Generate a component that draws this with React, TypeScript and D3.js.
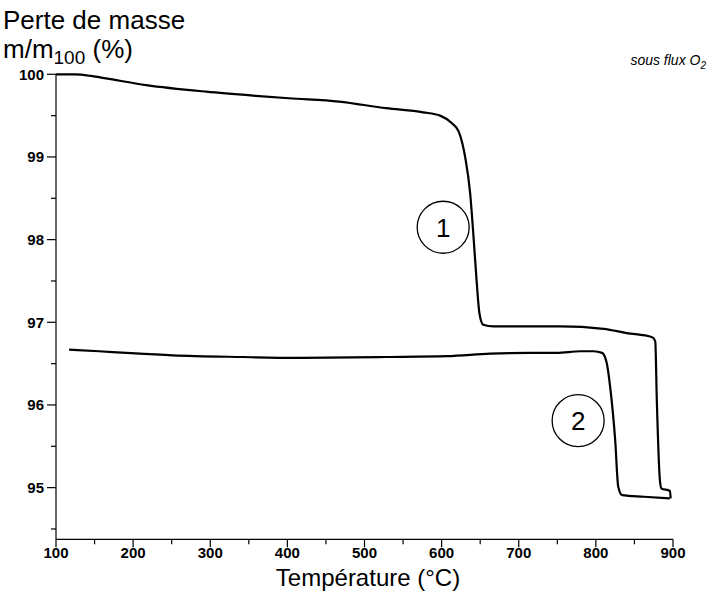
import React from "react";
import * as d3 from "d3";

const curve1T = [100, 125, 145, 165, 217, 295, 359, 402, 467, 528, 576, 598, 613, 622, 630.5, 637, 641, 645, 649, 654, 667, 702, 754, 810, 840, 873, 877, 879, 883, 885, 896, 897];
const curve1M = [100.0, 99.998, 99.98, 99.95, 99.87, 99.79, 99.74, 99.71, 99.67, 99.59, 99.54, 99.5, 99.41, 99.31, 99.0, 98.56, 98.08, 97.55, 97.11, 96.97, 96.95, 96.95, 96.95, 96.92, 96.87, 96.82, 96.77, 96.06, 95.09, 94.99, 94.96, 94.87];

const curve2T = [117, 156, 191, 251, 342, 411, 528, 607, 663, 715, 749, 780, 797, 808, 814, 818.5, 825, 829, 834, 862, 896];
const curve2M = [96.67, 96.65, 96.63, 96.6, 96.58, 96.57, 96.58, 96.59, 96.62, 96.63, 96.63, 96.65, 96.65, 96.63, 96.51, 96.22, 95.58, 95.01, 94.91, 94.89, 94.87];

const xMajorTicks = [100, 200, 300, 400, 500, 600, 700, 800, 900];
const xMinorTicks = [150, 250, 350, 450, 550, 650, 750, 850];
const yMajorTicks = [95, 96, 97, 98, 99, 100];
const yMinorTicks = [94.5, 95.5, 96.5, 97.5, 98.5, 99.5];

const labelNames = ["1", "2"];
const labelT = [602, 777];
const labelM = [98.15, 95.81];

const FONT = "'Liberation Sans', Arial, Helvetica, sans-serif";

export default function App() {
  const x = d3.scaleLinear().domain([100, 900]).range([56, 673]);
  const y = d3.scaleLinear().domain([94.375, 100]).range([539.3, 74.3]);

  const mk = d3
    .line<[number, number]>()
    .x((d) => x(d[0]))
    .y((d) => y(d[1]))
    .curve(d3.curveMonotoneX);
  const path1 = mk(curve1T.map((t, i) => [t, curve1M[i]] as [number, number]));
  const path2 = mk(curve2T.map((t, i) => [t, curve2M[i]] as [number, number]));

  const [y0, y1] = y.range();
  const [x0, x1] = x.range();

  return (
    <div style={{ position: "fixed", left: 0, top: 0 }}>
      <svg width={708} height={597} style={{ display: "block", background: "#fff" }}>
        <rect width={708} height={597} fill="#fff" />
        {/* titles */}
        <text x={3} y={29} fontFamily={FONT} fontSize={26} fill="#000">
          Perte de masse
        </text>
        <text x={3} y={58} fontFamily={FONT} fontSize={26} fill="#000">
          m/m<tspan fontSize={19} dy={6}>100</tspan>
          <tspan dy={-6}> (%)</tspan>
        </text>
        <text x={706} y={65} fontFamily={FONT} fontSize={14} fontStyle="italic" fill="#000" textAnchor="end">
          sous flux O<tspan fontSize={10} dy={4}>2</tspan>
        </text>

        {/* axes */}
        <line x1={x0} x2={x0} y1={y1} y2={y0} stroke="#000" strokeWidth={1.2} />
        <line x1={x0} x2={x1} y1={y0} y2={y0} stroke="#000" strokeWidth={1.2} />
        {yMajorTicks.map((v) => (
          <g key={"ym" + v}>
            <line x1={x0 - 9} x2={x0} y1={y(v)} y2={y(v)} stroke="#000" strokeWidth={1.2} />
            <text x={x0 - 12} y={y(v)} dy="0.36em" textAnchor="end" fontFamily={FONT} fontSize={15} fontWeight="bold">
              {v}
            </text>
          </g>
        ))}
        {yMinorTicks.map((v) => (
          <line key={"yn" + v} x1={x0 - 5} x2={x0} y1={y(v)} y2={y(v)} stroke="#000" strokeWidth={1.2} />
        ))}
        {xMajorTicks.map((v) => (
          <g key={"xm" + v}>
            <line x1={x(v)} x2={x(v)} y1={y0} y2={y0 + 8} stroke="#000" strokeWidth={1.2} />
            <text x={x(v)} y={y0 + 19} textAnchor="middle" fontFamily={FONT} fontSize={15} fontWeight="bold">
              {v}
            </text>
          </g>
        ))}
        {xMinorTicks.map((v) => (
          <line key={"xn" + v} x1={x(v)} x2={x(v)} y1={y0} y2={y0 + 5} stroke="#000" strokeWidth={1.2} />
        ))}
        <text x={368} y={586} textAnchor="middle" fontFamily={FONT} fontSize={24} fill="#000">
          Température (°C)
        </text>

        {/* curves */}
        <path d={path1 || ""} fill="none" stroke="#000" strokeWidth={2.2} strokeLinejoin="round" />
        <path d={path2 || ""} fill="none" stroke="#000" strokeWidth={2.2} strokeLinejoin="round" />

        {/* circled labels */}
        {labelNames.map((n, i) => (
          <g key={n}>
            <circle cx={x(labelT[i])} cy={y(labelM[i])} r={26} fill="none" stroke="#000" strokeWidth={1.3} />
            <text x={x(labelT[i])} y={y(labelM[i])} dy="0.36em" textAnchor="middle" fontFamily={FONT} fontSize={26}>
              {n}
            </text>
          </g>
        ))}
      </svg>
    </div>
  );
}
